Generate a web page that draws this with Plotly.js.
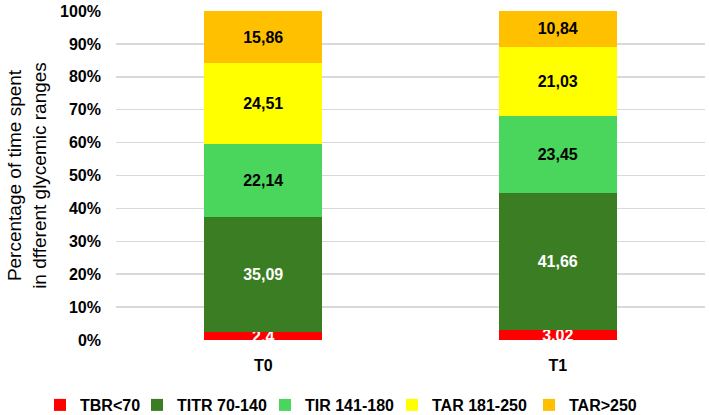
<!DOCTYPE html>
<html>
<head>
<meta charset="utf-8">
<script src="https://cdn.plot.ly/plotly-3.0.1.min.js"></script>
<style>html,body{margin:0;padding:0;background:#fff}#chart{width:709px;height:415px}</style>
</head>
<body>
<div id="chart"></div>
<script>
const categories = ["T0", "T1"];
const seriesNames = ["TBR<70", "TITR 70-140", "TIR 141-180", "TAR 181-250", "TAR>250"];
const tbr = [2.4, 3.02];
const titr = [35.09, 41.66];
const tir = [22.14, 23.45];
const tar181 = [24.51, 21.03];
const tar250 = [15.86, 10.84];
const yTicks = [0, 10, 20, 30, 40, 50, 60, 70, 80, 90, 100];

const seriesValues = [tbr, titr, tir, tar181, tar250];
const colors = ["#FF0000", "#3A7D22", "#4AD65C", "#FFFF00", "#FFC000"];
const textColors = ["#FFFFFF", "#FFFFFF", "#000000", "#000000", "#000000"];
const FONT = "Liberation Sans, Arial, sans-serif";
// left edge (px) of each legend entry
const legendLeftPx = [40, 137, 265, 392, 529];
const legendKeys = ["legend", "legend2", "legend3", "legend4", "legend5"];

const traces = seriesValues.map((vals, i) => ({
  type: "bar",
  name: seriesNames[i],
  x: categories,
  y: vals,
  text: vals.map(v => String(v).replace(".", ",")),
  textposition: "inside",
  insidetextanchor: "middle",
  textangle: 0,
  constraintext: "none",
  textfont: {family: FONT, size: 16, color: textColors[i], weight: "bold"},
  marker: {color: colors[i], line: {width: 0}},
  legend: legendKeys[i],
  hoverinfo: "none"
}));

const layout = {
  width: 709, height: 415,
  barmode: "stack",
  bargap: 0.6,
  margin: {l: 116, r: 4, t: 11, b: 75},
  paper_bgcolor: "#fff", plot_bgcolor: "#fff",
  font: {family: FONT, color: "#000"},
  uniformtext: {mode: "show", minsize: 16},
  showlegend: true,
  xaxis: {
    type: "category",
    tickfont: {family: FONT, size: 16, color: "#000", weight: "bold"},
    showgrid: false, zeroline: false, showline: false, ticks: "",
    ticklabelstandoff: 14
  },
  yaxis: {
    range: [0, 100],
    tickvals: yTicks,
    ticktext: yTicks.map(t => t + "%"),
    tickfont: {family: FONT, size: 16, color: "#000", weight: "bold"},
    showgrid: true, gridcolor: "#D9D9D9", gridwidth: 1.5,
    zeroline: false, showline: false, ticks: "",
    ticklabelstandoff: 14,
    title: {text: "Percentage of time spent<br>in dfferent glycemic ranges", font: {family: FONT, size: 19, color: "#000"}, standoff: 8}
  }
};
legendKeys.forEach((k, i) => {
  layout[k] = {
    orientation: "h", xref: "container", yref: "container",
    x: legendLeftPx[i] / 709, xanchor: "left",
    y: (415 - 388) / 415, yanchor: "top",
    bgcolor: "rgba(0,0,0,0)",
    font: {family: FONT, size: 16, color: "#000", weight: "bold"}
  };
});

Plotly.newPlot("chart", traces, layout, {displayModeBar: false, staticPlot: true});
</script>
</body>
</html>
